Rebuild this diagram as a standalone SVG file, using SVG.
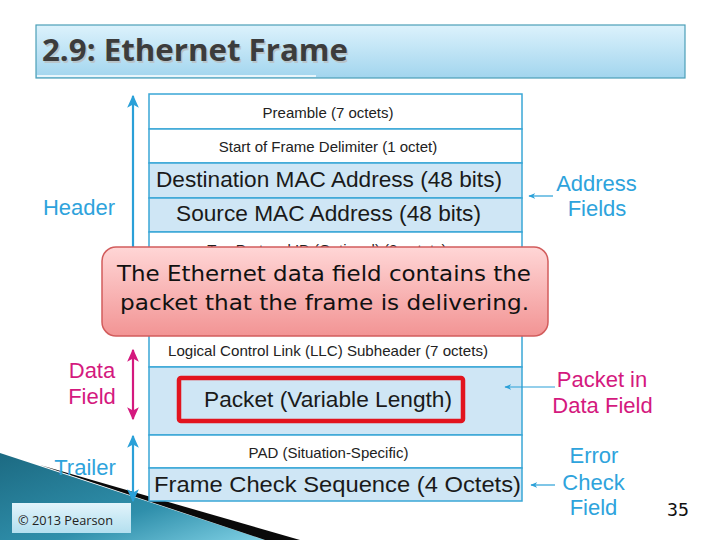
<svg xmlns="http://www.w3.org/2000/svg" width="720" height="540" viewBox="0 0 720 540">
<defs>
<linearGradient id="titleG" x1="0" y1="0" x2="0" y2="1"><stop offset="0" stop-color="#dcf2fc"/><stop offset="1" stop-color="#a2d5ee"/></linearGradient>
<linearGradient id="calloutG" x1="0" y1="0" x2="0" y2="1"><stop offset="0" stop-color="#ffd6d6"/><stop offset="1" stop-color="#f29494"/></linearGradient>
<linearGradient id="tealG" x1="0" y1="0" x2="1" y2="1"><stop offset="0" stop-color="#1c6a82"/><stop offset="0.6" stop-color="#2f8fab"/><stop offset="1" stop-color="#7fd0e4"/></linearGradient>
<linearGradient id="copyG" x1="0" y1="0" x2="0" y2="1"><stop offset="0" stop-color="#e2f4fb"/><stop offset="1" stop-color="#b3dfef"/></linearGradient>
<marker id="ahB" viewBox="0 0 10 10" refX="9" refY="5" markerWidth="13" markerHeight="13" markerUnits="userSpaceOnUse" orient="auto-start-reverse"><path d="M0,0.5 L10,5 L0,9.5 L2.5,5 Z" fill="#2aa0d8"/></marker>
<marker id="ahM" viewBox="0 0 10 10" refX="9" refY="5" markerWidth="13" markerHeight="13" markerUnits="userSpaceOnUse" orient="auto-start-reverse"><path d="M0,0.5 L10,5 L0,9.5 L2.5,5 Z" fill="#d4197e"/></marker>
<marker id="ahS" viewBox="0 0 10 10" refX="9" refY="5" markerWidth="7" markerHeight="7" markerUnits="userSpaceOnUse" orient="auto"><path d="M0,1 L10,5 L0,9 L3,5 Z" fill="#2aa0d8"/></marker>
<style>
.row{stroke:#3aa7d6;stroke-width:1.5}
.w{fill:#ffffff}
.b{fill:#cfe6f5}
.sm{font-family:"Liberation Sans",Arial,sans-serif;font-size:15px;fill:#222;text-anchor:middle}
.lg{font-family:"Liberation Sans",Arial,sans-serif;font-size:22.5px;fill:#1a1a1a;text-anchor:middle}
.lblB{font-family:"Liberation Sans",Arial,sans-serif;font-size:22px;fill:#2ea3dc;text-anchor:middle}
.lblM{font-family:"Liberation Sans",Arial,sans-serif;font-size:22px;fill:#d4197e;text-anchor:middle}
.conB{stroke:#2aa0d8;stroke-width:2.2;fill:none}
.conM{stroke:#d4197e;stroke-width:2.2;fill:none}
.conS{stroke:#2aa0d8;stroke-width:1.2;fill:none}
</style>
</defs>
<rect width="720" height="540" fill="#ffffff"/>

<!-- bottom-left decoration -->
<polygon points="0,453 265,540 0,540" fill="url(#tealG)"/>
<polygon points="40,465 300,540 265,540" fill="#0a0a0a"/>

<!-- title -->
<g id="title">
<rect x="36" y="25" width="649" height="53" fill="url(#titleG)" stroke="#4b9fb7" stroke-width="1.2"/>
<line x1="37" y1="76" x2="316" y2="76" stroke="#ffffff" stroke-width="1.5"/>
<text x="43.5" y="62.5" font-family="'Open Sans','Liberation Sans',sans-serif" font-weight="bold" font-size="31" fill="#b8c4c9" textLength="306" lengthAdjust="spacingAndGlyphs">2.9: Ethernet Frame</text>
<text x="42" y="61" font-family="'Open Sans','Liberation Sans',sans-serif" font-weight="bold" font-size="31" fill="#3c3c3c" textLength="306" lengthAdjust="spacingAndGlyphs">2.9: Ethernet Frame</text>
</g>

<!-- frame rows -->
<g id="preamble"><rect class="row w" x="149" y="94" width="373" height="35"/><text class="sm" x="328" y="118">Preamble (7 octets)</text></g>
<g id="sfd"><rect class="row w" x="149" y="129" width="373" height="34"/><text class="sm" x="328" y="152">Start of Frame Delimiter (1 octet)</text></g>
<g id="dest-mac"><rect class="row b" x="149" y="163" width="373" height="35"/><text class="lg" x="329" y="187" textLength="346" lengthAdjust="spacingAndGlyphs">Destination MAC Address (48 bits)</text></g>
<g id="src-mac"><rect class="row b" x="149" y="198" width="373" height="34"/><text class="lg" x="328.5" y="221" textLength="305" lengthAdjust="spacingAndGlyphs">Source MAC Address (48 bits)</text></g>
<g id="tag"><rect class="row w" x="149" y="232" width="373" height="103"/><text class="sm" x="327" y="255">Tag Protocol ID (Optional) (2 octets)</text></g>
<g id="llc"><rect class="row w" x="149" y="335" width="373" height="32"/><text class="sm" x="328" y="356" textLength="320" lengthAdjust="spacingAndGlyphs">Logical Control Link (LLC) Subheader (7 octets)</text></g>
<g id="packet"><rect class="row b" x="149" y="367" width="373" height="68"/><rect x="179" y="378" width="284" height="43" fill="none" stroke="#e2141e" stroke-width="4.5" rx="2"/><text class="lg" x="328" y="407" textLength="248" lengthAdjust="spacingAndGlyphs">Packet (Variable Length)</text></g>
<g id="pad"><rect class="row w" x="149" y="435" width="373" height="33"/><text class="sm" x="328.5" y="458">PAD (Situation-Specific)</text></g>
<g id="fcs"><rect class="row b" x="149" y="468" width="373" height="33"/><text class="lg" x="337.5" y="492" textLength="367" lengthAdjust="spacingAndGlyphs">Frame Check Sequence (4 Octets)</text></g>

<!-- connectors -->
<g id="connectors">
<line class="conB" x1="133" y1="300" x2="133" y2="96" marker-end="url(#ahB)"/>
<line class="conM" x1="133" y1="350" x2="133" y2="419" marker-start="url(#ahM)" marker-end="url(#ahM)"/>
<line class="conB" x1="133" y1="436" x2="133" y2="501" marker-start="url(#ahB)" marker-end="url(#ahB)"/>
<line class="conS" x1="553" y1="196" x2="529" y2="196" marker-end="url(#ahS)"/>
<line class="conS" x1="555" y1="387" x2="505" y2="387" marker-end="url(#ahS)"/>
<line class="conS" x1="555" y1="485" x2="531" y2="485" marker-end="url(#ahS)"/>
</g>

<!-- labels -->
<g id="lbl-header"><text class="lblB" x="79" y="215">Header</text></g>
<g id="lbl-data"><text class="lblM" x="92" y="378">Data</text><text class="lblM" x="92" y="404">Field</text></g>
<g id="lbl-trailer"><text class="lblB" x="85" y="475">Trailer</text></g>
<g id="lbl-address"><text class="lblB" x="596.5" y="191">Address</text><text class="lblB" x="597" y="216">Fields</text></g>
<g id="lbl-packet"><text class="lblM" x="602" y="387">Packet in</text><text class="lblM" x="602.5" y="413">Data Field</text></g>
<g id="lbl-error"><text class="lblB" x="594" y="463">Error</text><text class="lblB" x="593.5" y="490">Check</text><text class="lblB" x="593.5" y="515">Field</text></g>

<!-- callout -->
<g id="callout">
<rect x="102" y="247" width="446" height="89" rx="14" fill="url(#calloutG)" stroke="#d25c5c" stroke-width="1.5"/>
<text x="117" y="281" font-family="'DejaVu Sans','Open Sans',sans-serif" font-size="21" fill="#111" textLength="414" lengthAdjust="spacingAndGlyphs">The Ethernet data field contains the</text>
<text x="120" y="310" font-family="'DejaVu Sans','Open Sans',sans-serif" font-size="21" fill="#111" textLength="409" lengthAdjust="spacingAndGlyphs">packet that the frame is delivering.</text>
</g>

<!-- footer -->
<g id="copyright">
<rect x="12" y="503" width="119" height="30" fill="url(#copyG)"/>
<text x="18" y="525" font-family="'Open Sans','Liberation Sans',sans-serif" font-size="12" fill="#222" textLength="95" lengthAdjust="spacingAndGlyphs">© 2013 Pearson</text>
</g>
<g id="page-number"><text x="667" y="516" font-family="'DejaVu Sans Mono','Liberation Mono',monospace" font-size="18" fill="#111" textLength="22" lengthAdjust="spacingAndGlyphs">35</text></g>
</svg>
